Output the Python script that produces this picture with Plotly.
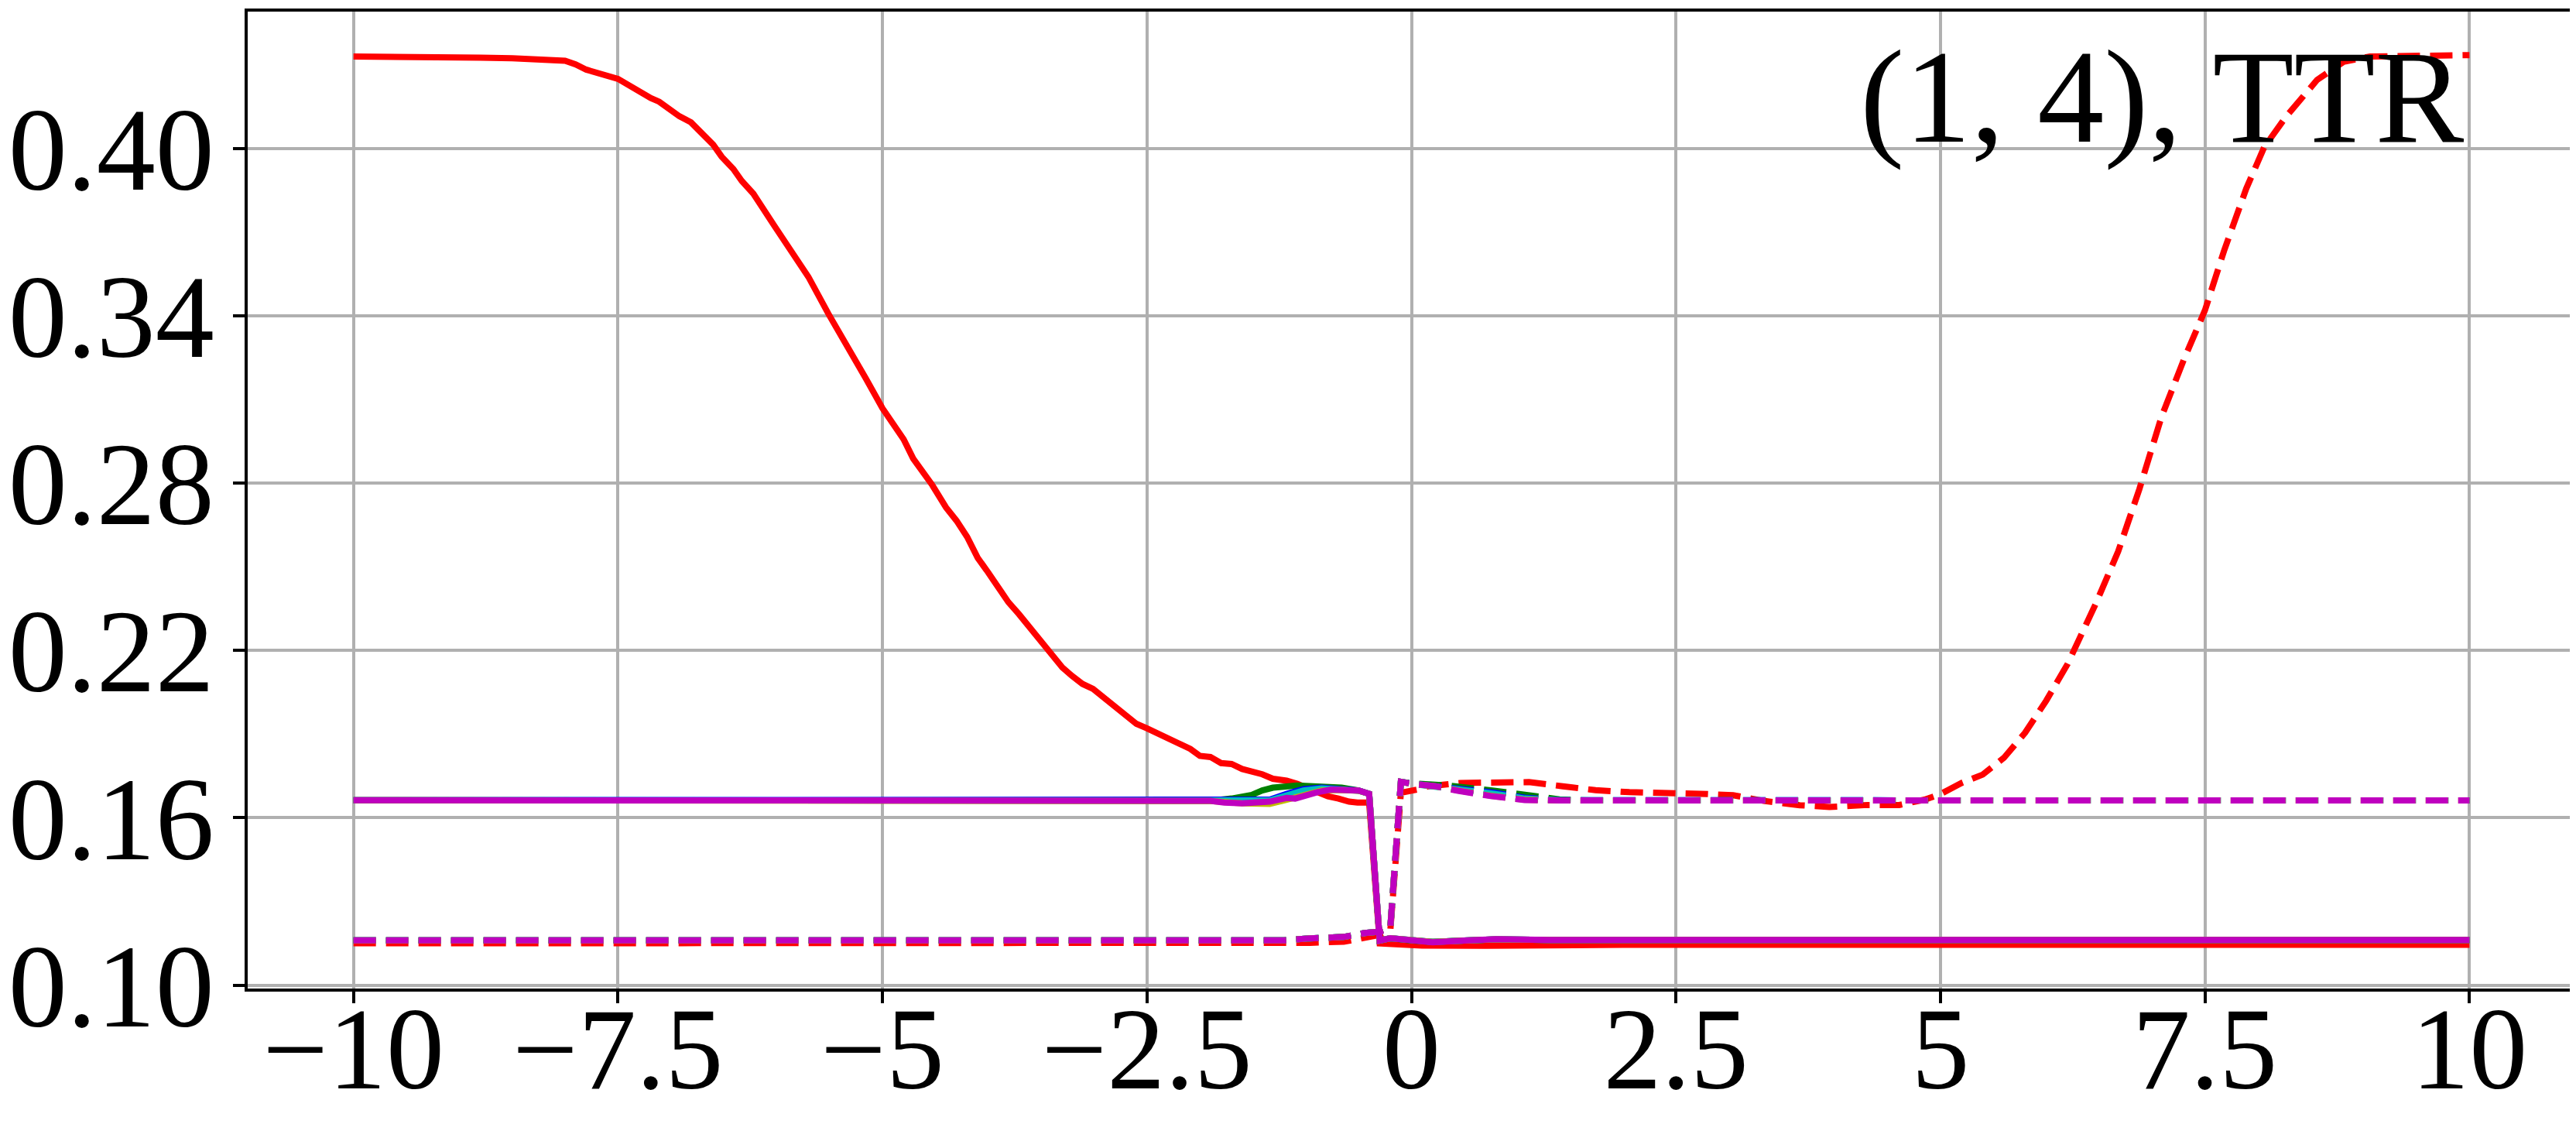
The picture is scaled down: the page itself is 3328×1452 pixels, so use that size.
import plotly.graph_objects as go

# ---------------- data ----------------
x_ticks = [-10, -7.5, -5, -2.5, 0, 2.5, 5, 7.5, 10]
x_tick_text = ["−10", "−7.5", "−5", "−2.5", "0", "2.5", "5", "7.5", "10"]
y_ticks = [0.10, 0.16, 0.22, 0.28, 0.34, 0.40]
y_tick_text = ["0.10", "0.16", "0.22", "0.28", "0.34", "0.40"]
label_text = "(1, 4), TTR"

colors = {"r": "#ff0000", "g": "#008000", "b": "#0000ff",
          "c": "#00bfbf", "y": "#bfbf00", "m": "#bf00bf"}

# solid curves
red_solid_x = [-10, -9.0, -8.8, -8.5, -8.2, -8.0, -7.9, -7.8, -7.5, -7.34, -7.19, -7.11,
               -6.92, -6.81, -6.6, -6.52, -6.41, -6.33, -6.22, -6.02, -5.81, -5.7, -5.51,
               -5.3, -5.16, -5.0, -4.8, -4.71, -4.53, -4.4, -4.3, -4.2, -4.1, -4.0, -3.92,
               -3.81, -3.71, -3.61, -3.5, -3.42, -3.3, -3.21, -3.11, -3.01, -2.91, -2.81,
               -2.7, -2.6, -2.5, -2.39, -2.29, -2.19, -2.09, -2.0, -1.9, -1.8, -1.7, -1.6,
               -1.51, -1.41, -1.31, -1.18, -1.08, -0.99, -0.89, -0.79, -0.69, -0.59, -0.51,
               -0.4, -0.3, -0.2, 0.1, 0.7, 2.0, 10]
red_solid_y = [0.4329, 0.4329, 0.4325, 0.4323, 0.4316, 0.4314, 0.4301, 0.4282, 0.4249, 0.4212,
               0.4180, 0.4167, 0.4115, 0.4093, 0.4013, 0.3970, 0.3926, 0.3883, 0.3837, 0.3721,
               0.3595, 0.3539, 0.3406, 0.3274, 0.3177, 0.3068, 0.2957, 0.2888, 0.2793, 0.2713,
               0.2665, 0.2607, 0.2532, 0.2479, 0.2431, 0.2373, 0.2330, 0.2282, 0.2235, 0.2192,
               0.2139, 0.2109, 0.2080, 0.2062, 0.2030, 0.2001, 0.1969, 0.1937, 0.1921, 0.1902,
               0.1882, 0.1862, 0.1847, 0.1822, 0.1818, 0.1796, 0.1793, 0.1775, 0.1767, 0.1756,
               0.1740, 0.1733, 0.1722, 0.1708, 0.1692, 0.1677, 0.1669, 0.1658, 0.1655, 0.1655,
               0.1150, 0.1148, 0.1142, 0.1141, 0.1145, 0.1145]

green_solid_x = [-10, -1.9, -1.7, -1.51, -1.41, -1.31, -1.08, -0.89, -0.66, -0.5, -0.4, -0.3,
                 -0.2, 0.0, 0.2, 0.5, 0.8, 1.3, 10]
green_solid_y = [0.1663, 0.1661, 0.1669, 0.1682, 0.1698, 0.1708, 0.1716, 0.1713, 0.1708, 0.1698,
                 0.1686, 0.1160, 0.1168, 0.1160, 0.1155, 0.1160, 0.1164, 0.1162, 0.1162]

blue_solid_x = [-10, -1.5, -1.34, -1.18, -1.02, -0.85, -0.66, -0.5, -0.4, -0.3,
                -0.2, 0.0, 0.2, 0.5, 0.8, 1.3, 10]
blue_solid_y = [0.1663, 0.1660, 0.1665, 0.1686, 0.1703, 0.1708, 0.1705, 0.1698, 0.1686, 0.1160,
                0.1168, 0.1160, 0.1155, 0.1160, 0.1164, 0.1162, 0.1162]

cyan_solid_x = [-10, -1.5, -1.34, -1.18, -1.02, -0.85, -0.66, -0.5, -0.4, -0.3,
                -0.2, 0.0, 0.2, 0.5, 0.8, 1.3, 10]
cyan_solid_y = [0.1663, 0.1658, 0.1662, 0.1680, 0.1698, 0.1705, 0.1703, 0.1697, 0.1686, 0.1160,
                0.1168, 0.1160, 0.1155, 0.1160, 0.1164, 0.1162, 0.1162]

yellow_solid_x = [-10, -1.9, -1.6, -1.34, -1.18, -1.0, -0.85, -0.66, -0.5, -0.4, -0.3,
                  -0.2, 0.0, 0.2, 0.5, 0.8, 1.3, 10]
yellow_solid_y = [0.1663, 0.1660, 0.1652, 0.1650, 0.1665, 0.1685, 0.1698, 0.1700, 0.1697, 0.1686,
                  0.1160, 0.1168, 0.1160, 0.1155, 0.1160, 0.1164, 0.1162, 0.1162]

magenta_solid_x = [-10, -1.9, -1.77, -1.6, -1.34, -1.18, -1.1, -0.99, -0.89, -0.76, -0.63,
                   -0.5, -0.4, -0.3, -0.2, 0.0, 0.2, 0.5, 0.8, 1.3, 10]
magenta_solid_y = [0.1663, 0.1661, 0.1655, 0.1652, 0.1658, 0.1671, 0.1669, 0.1682, 0.1692, 0.1701,
                   0.1700, 0.1698, 0.1686, 0.1160, 0.1168, 0.1160, 0.1154, 0.1160, 0.1165, 0.1162,
                   0.1162]

# dashed curves
red_dash_x = [-10, -1.2, -0.96, -0.64, -0.44, -0.3, -0.2, -0.1, 0.05, 0.16, 0.46, 0.78, 1.11,
              1.43, 1.74, 2.06, 2.43, 2.8, 3.04, 3.34, 3.67, 3.95, 4.31, 4.61, 4.85, 5.0, 5.2,
              5.4, 5.6, 5.8, 6.0, 6.2, 6.47, 6.68, 6.88, 7.09, 7.3, 7.5, 7.68, 7.89, 8.06,
              8.27, 8.56, 8.81, 9.06, 10]
red_dash_y = [0.1150, 0.1150, 0.1152, 0.1156, 0.1168, 0.1180, 0.1195, 0.1690, 0.1701, 0.1713,
              0.1725, 0.1725, 0.1728, 0.1713, 0.1699, 0.1692, 0.1690, 0.1685, 0.1681, 0.1660,
              0.1645, 0.1639, 0.1646, 0.1646, 0.1665, 0.1685, 0.1725, 0.1755, 0.1815, 0.1905,
              0.2020, 0.2150, 0.2369, 0.2555, 0.2778, 0.3038, 0.3242, 0.3419, 0.3632, 0.3855,
              0.4004, 0.4115, 0.4245, 0.4310, 0.4329, 0.4334]

green_dash_x = [-10, -1.2, -0.96, -0.64, -0.44, -0.3, -0.2, -0.1, 0.0, 0.36, 0.78, 1.07, 1.4,
                1.7, 10]
green_dash_y = [0.1161, 0.1161, 0.1168, 0.1173, 0.1187, 0.1192, 0.1205, 0.1729, 0.1724, 0.1715,
                0.1697, 0.1681, 0.1666, 0.1662, 0.1662]

blue_dash_x = [-10, -1.2, -0.96, -0.64, -0.44, -0.3, -0.2, -0.1, 0.0, 0.36, 0.78, 1.07, 1.4, 10]
blue_dash_y = [0.1161, 0.1161, 0.1168, 0.1173, 0.1187, 0.1192, 0.1205, 0.1729, 0.1723, 0.1710,
               0.1690, 0.1672, 0.1663, 0.1662]

cyan_dash_x = [-10, -1.2, -0.96, -0.64, -0.44, -0.3, -0.2, -0.1, 0.0, 0.36, 0.78, 1.07, 1.4, 10]
cyan_dash_y = [0.1161, 0.1161, 0.1168, 0.1173, 0.1187, 0.1192, 0.1205, 0.1729, 0.1722, 0.1707,
               0.1686, 0.1669, 0.1663, 0.1662]

yellow_dash_x = [-10, -1.2, -0.96, -0.64, -0.44, -0.3, -0.2, -0.1, 0.0, 0.23, 0.44, 0.75, 1.07,
                 1.4, 10]
yellow_dash_y = [0.1161, 0.1161, 0.1168, 0.1173, 0.1187, 0.1192, 0.1205, 0.1729, 0.1722, 0.1713,
                 0.1698, 0.1679, 0.1665, 0.1662, 0.1662]

magenta_dash_x = [-10, -1.2, -0.96, -0.64, -0.44, -0.3, -0.2, -0.1, 0.0, 0.13, 0.23, 0.44, 0.75,
                  1.07, 1.4, 10]
magenta_dash_y = [0.1161, 0.1161, 0.1168, 0.1173, 0.1187, 0.1192, 0.1205, 0.1729, 0.1722, 0.1718,
                  0.1713, 0.1697, 0.1678, 0.1664, 0.1662, 0.1662]

series = [
    ("r", red_solid_x, red_solid_y, red_dash_x, red_dash_y),
    ("g", green_solid_x, green_solid_y, green_dash_x, green_dash_y),
    ("b", blue_solid_x, blue_solid_y, blue_dash_x, blue_dash_y),
    ("c", cyan_solid_x, cyan_solid_y, cyan_dash_x, cyan_dash_y),
    ("y", yellow_solid_x, yellow_solid_y, yellow_dash_x, yellow_dash_y),
    ("m", magenta_solid_x, magenta_solid_y, magenta_dash_x, magenta_dash_y),
]

# ---------------- figure ----------------
LW = 8
fig = go.Figure()
for key, sx, sy, dx, dy in series:
    fig.add_trace(go.Scatter(x=sx, y=sy, mode="lines",
                             line=dict(color=colors[key], width=LW),
                             showlegend=False, hoverinfo="skip"))
    fig.add_trace(go.Scatter(x=dx, y=dy, mode="lines",
                             line=dict(color=colors[key], width=LW, dash="29px,13px"),
                             showlegend=False, hoverinfo="skip"))

FONT = "Liberation Serif"
axis_common = dict(
    showgrid=True, gridcolor="#b0b0b0", gridwidth=3.5,
    showline=True, linecolor="black", linewidth=3.5, mirror=True,
    ticks="outside", ticklen=15, tickwidth=3.5, tickcolor="black",
    zeroline=False, automargin=False,
)

fig.update_layout(
    width=3328, height=1452,
    margin=dict(l=312, r=9, t=7, b=183, pad=0),
    paper_bgcolor="white", plot_bgcolor="white",
    xaxis=dict(range=[-11, 11], tickmode="array", tickvals=x_ticks,
               ticktext=x_tick_text, ticklabelstandoff=-70,
               tickfont=dict(family=FONT, size=150, color="black"),
               **axis_common),
    yaxis=dict(range=[0.0988, 0.449], tickmode="array", tickvals=y_ticks,
               ticktext=y_tick_text, ticklabelstandoff=-6,
               tickfont=dict(family=FONT, size=152, color="black"),
               **axis_common),
    annotations=[dict(text=label_text, xref="paper", yref="paper",
                      x=0.953, y=0.913, xanchor="right", yanchor="middle",
                      showarrow=False,
                      font=dict(family=FONT, size=172, color="black"))],
)

fig.write_html("out.html")
